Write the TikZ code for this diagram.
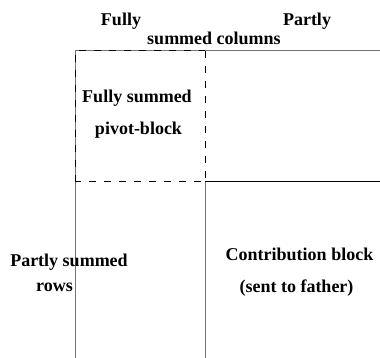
\documentclass[tikz,border=0pt]{standalone}
\usepackage{fontspec}
\setmainfont{Liberation Serif}
\begin{document}
\begin{tikzpicture}[x=1pt,y=-1pt,
  lbl/.style={font=\fontsize{18}{20}\selectfont\bfseries, anchor=base, inner sep=0pt},
  grayline/.style={draw=black!55, line width=1pt},
  blackline/.style={draw=black, line width=1pt},
  dashline/.style={draw=black, line width=1pt, dash pattern=on 7pt off 8pt}]
\useasboundingbox (0,0) rectangle (380,358);
% corner coordinates
\coordinate (tl) at (75,51);
\coordinate (tr) at (380,51);
\coordinate (bl) at (75,358);
\coordinate (tm) at (205,51);
\coordinate (mm) at (205,182);
\coordinate (bm) at (205,358);
\coordinate (ml) at (75,182);
\coordinate (mr) at (380,182);
% frame
\draw[grayline] (tl) -- (tr);
\draw[grayline] (tl) -- (bl);
\draw[grayline] (mm) -- (bm);
\draw[blackline] (mm) -- (mr);
% pivot block
\draw[dashline] (ml) -- (tl) -- (tm);
\draw[dashline] (tm) -- (mm) -- (ml);
% labels
\node[lbl] (fully) at (121,26) {Fully};
\node[lbl] (partly) at (307,26) {Partly};
\node[lbl] (cols) at (214,44.5) {summed columns};
\node[lbl] (piv1) at (137,103) {Fully summed};
\node[lbl] (piv2) at (138.5,135) {pivot-block};
\node[lbl] (rows1) at (69,266.5) {Partly summed};
\node[lbl] (rows2) at (54.5,291.5) {rows};
\node[lbl] (cb1) at (299.5,260) {Contribution block};
\node[lbl] (cb2) at (296.5,292) {(sent to father)};
\end{tikzpicture}
\end{document}
